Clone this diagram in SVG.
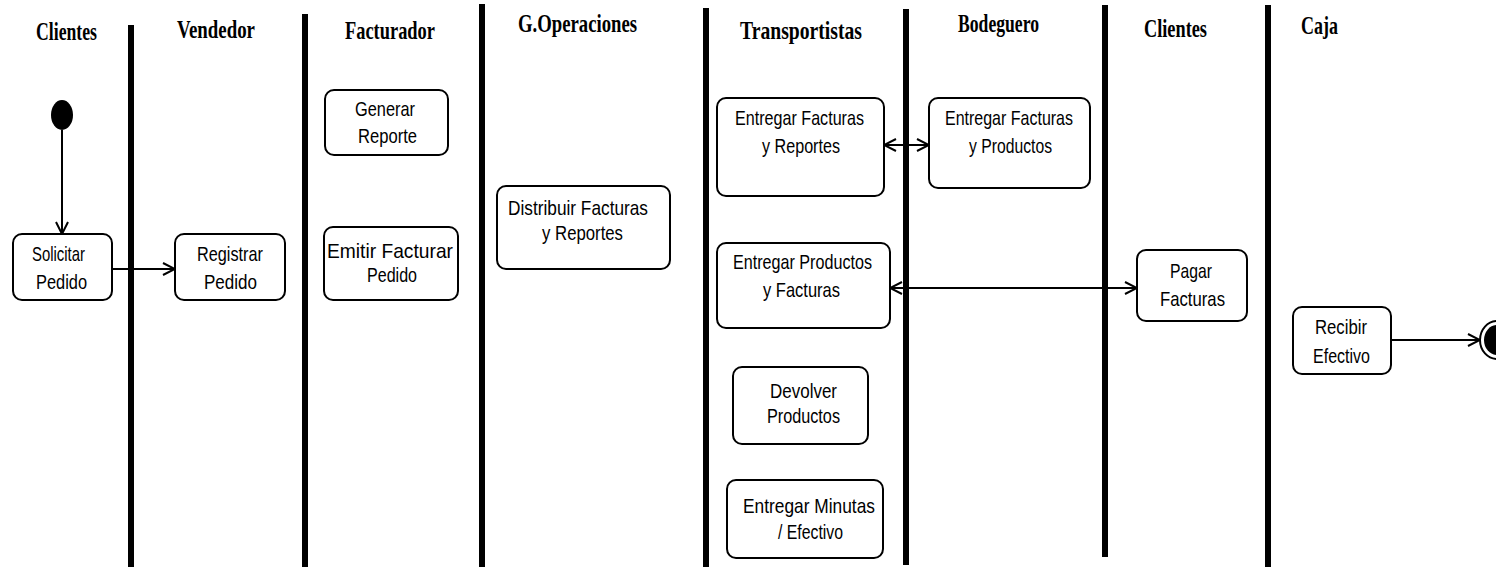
<svg xmlns="http://www.w3.org/2000/svg" width="1496" height="567" viewBox="0 0 1496 567">
<style>
.lane{stroke:#000;stroke-width:6;fill:none}
.hdr{font-family:"Liberation Serif","Times New Roman",serif;font-weight:bold;font-size:25px;fill:#000}
.box{fill:#fff;stroke:#000;stroke-width:2}
.lbl{font-family:"Liberation Sans",Arial,sans-serif;font-size:21px;fill:#000}
.con{stroke:#000;stroke-width:2;fill:none}
</style>
<defs>
<marker id="arr" viewBox="0 0 14 14" refX="13" refY="7" markerWidth="14" markerHeight="14" markerUnits="userSpaceOnUse" orient="auto-start-reverse">
<path d="M1,1 L13,7 L1,13" fill="none" stroke="#000" stroke-width="2"/>
</marker>
</defs>
<rect width="1496" height="567" fill="#fff"/>
<g id="lanes">
<line class="lane" x1="131" y1="25" x2="131" y2="567"/>
<line class="lane" x1="305" y1="14" x2="305" y2="567"/>
<line class="lane" x1="482" y1="4" x2="482" y2="567"/>
<line class="lane" x1="706" y1="8" x2="706" y2="567"/>
<line class="lane" x1="906" y1="9" x2="906" y2="565"/>
<line class="lane" x1="1105" y1="5" x2="1105" y2="557"/>
<line class="lane" x1="1268" y1="5" x2="1268" y2="567"/>
</g>
<g id="headers">
<text class="hdr" x="36" y="40" textLength="61" lengthAdjust="spacingAndGlyphs">Clientes</text>
<text class="hdr" x="177" y="38" textLength="78" lengthAdjust="spacingAndGlyphs">Vendedor</text>
<text class="hdr" x="345" y="39" textLength="90" lengthAdjust="spacingAndGlyphs">Facturador</text>
<text class="hdr" x="518" y="32" textLength="119" lengthAdjust="spacingAndGlyphs">G.Operaciones</text>
<text class="hdr" x="740" y="39" textLength="122" lengthAdjust="spacingAndGlyphs">Transportistas</text>
<text class="hdr" x="958" y="32" textLength="81" lengthAdjust="spacingAndGlyphs">Bodeguero</text>
<text class="hdr" x="1144" y="37" textLength="63" lengthAdjust="spacingAndGlyphs">Clientes</text>
<text class="hdr" x="1301" y="34" textLength="37" lengthAdjust="spacingAndGlyphs">Caja</text>
</g>
<g id="start">
<ellipse cx="62" cy="115" rx="11" ry="15" fill="#000"/>
</g>
<g id="end">
<ellipse cx="1497" cy="340" rx="17" ry="19" fill="#fff" stroke="#000" stroke-width="2"/>
<ellipse cx="1497" cy="340" rx="13" ry="15" fill="#000"/>
</g>
<g id="n_solicitar">
<rect class="box" x="13" y="234" width="99" height="66" rx="9"/>
<text class="lbl" x="32" y="261" textLength="53" lengthAdjust="spacingAndGlyphs">Solicitar</text>
<text class="lbl" x="36" y="289" textLength="51" lengthAdjust="spacingAndGlyphs">Pedido</text>
</g>
<g id="n_registrar">
<rect class="box" x="175" y="234" width="110" height="66" rx="9"/>
<text class="lbl" x="197" y="261" textLength="66" lengthAdjust="spacingAndGlyphs">Registrar</text>
<text class="lbl" x="204" y="289" textLength="53" lengthAdjust="spacingAndGlyphs">Pedido</text>
</g>
<g id="n_generar">
<rect class="box" x="325" y="90" width="123" height="65" rx="9"/>
<text class="lbl" x="355" y="116" textLength="60" lengthAdjust="spacingAndGlyphs">Generar</text>
<text class="lbl" x="358" y="143" textLength="59" lengthAdjust="spacingAndGlyphs">Reporte</text>
</g>
<g id="n_emitir">
<rect class="box" x="324" y="227" width="134" height="73" rx="9"/>
<text class="lbl" x="327" y="258" textLength="126" lengthAdjust="spacingAndGlyphs">Emitir Facturar</text>
<text class="lbl" x="367" y="282" textLength="50" lengthAdjust="spacingAndGlyphs">Pedido</text>
</g>
<g id="n_distribuir">
<rect class="box" x="497" y="186" width="173" height="83" rx="9"/>
<text class="lbl" x="508" y="215" textLength="140" lengthAdjust="spacingAndGlyphs">Distribuir Facturas</text>
<text class="lbl" x="542" y="240" textLength="81" lengthAdjust="spacingAndGlyphs">y Reportes</text>
</g>
<g id="n_entregar_facturas_reportes">
<rect class="box" x="717" y="98" width="167" height="98" rx="9"/>
<text class="lbl" x="735" y="125" textLength="129" lengthAdjust="spacingAndGlyphs">Entregar Facturas</text>
<text class="lbl" x="762" y="153" textLength="78" lengthAdjust="spacingAndGlyphs">y Reportes</text>
</g>
<g id="n_entregar_facturas_productos">
<rect class="box" x="929" y="98" width="161" height="90" rx="9"/>
<text class="lbl" x="945" y="125" textLength="128" lengthAdjust="spacingAndGlyphs">Entregar Facturas</text>
<text class="lbl" x="969" y="153" textLength="83" lengthAdjust="spacingAndGlyphs">y Productos</text>
</g>
<g id="n_entregar_productos_facturas">
<rect class="box" x="717" y="243" width="173" height="85" rx="9"/>
<text class="lbl" x="733" y="269" textLength="139" lengthAdjust="spacingAndGlyphs">Entregar Productos</text>
<text class="lbl" x="763" y="297" textLength="77" lengthAdjust="spacingAndGlyphs">y Facturas</text>
</g>
<g id="n_devolver">
<rect class="box" x="733" y="367" width="135" height="77" rx="9"/>
<text class="lbl" x="770" y="398" textLength="67" lengthAdjust="spacingAndGlyphs">Devolver</text>
<text class="lbl" x="767" y="423" textLength="73" lengthAdjust="spacingAndGlyphs">Productos</text>
</g>
<g id="n_minutas">
<rect class="box" x="727" y="480" width="156" height="78" rx="9"/>
<text class="lbl" x="743" y="513" textLength="132" lengthAdjust="spacingAndGlyphs">Entregar Minutas</text>
<text class="lbl" x="778" y="539" textLength="65" lengthAdjust="spacingAndGlyphs">/ Efectivo</text>
</g>
<g id="n_pagar">
<rect class="box" x="1137" y="250" width="110" height="71" rx="9"/>
<text class="lbl" x="1170" y="278" textLength="42" lengthAdjust="spacingAndGlyphs">Pagar</text>
<text class="lbl" x="1160" y="306" textLength="65" lengthAdjust="spacingAndGlyphs">Facturas</text>
</g>
<g id="n_recibir">
<rect class="box" x="1293" y="307" width="98" height="67" rx="9"/>
<text class="lbl" x="1315" y="334" textLength="52" lengthAdjust="spacingAndGlyphs">Recibir</text>
<text class="lbl" x="1313" y="363" textLength="57" lengthAdjust="spacingAndGlyphs">Efectivo</text>
</g>
<g id="connectors">
<line class="con" x1="62" y1="130" x2="62" y2="234" marker-end="url(#arr)"/>
<line class="con" x1="112" y1="269" x2="175" y2="269" marker-end="url(#arr)"/>
<line class="con" x1="884" y1="145" x2="929" y2="145" marker-start="url(#arr)" marker-end="url(#arr)"/>
<line class="con" x1="890" y1="288" x2="1137" y2="288" marker-start="url(#arr)" marker-end="url(#arr)"/>
<line class="con" x1="1391" y1="340" x2="1480" y2="340" marker-end="url(#arr)"/>
</g>
</svg>
